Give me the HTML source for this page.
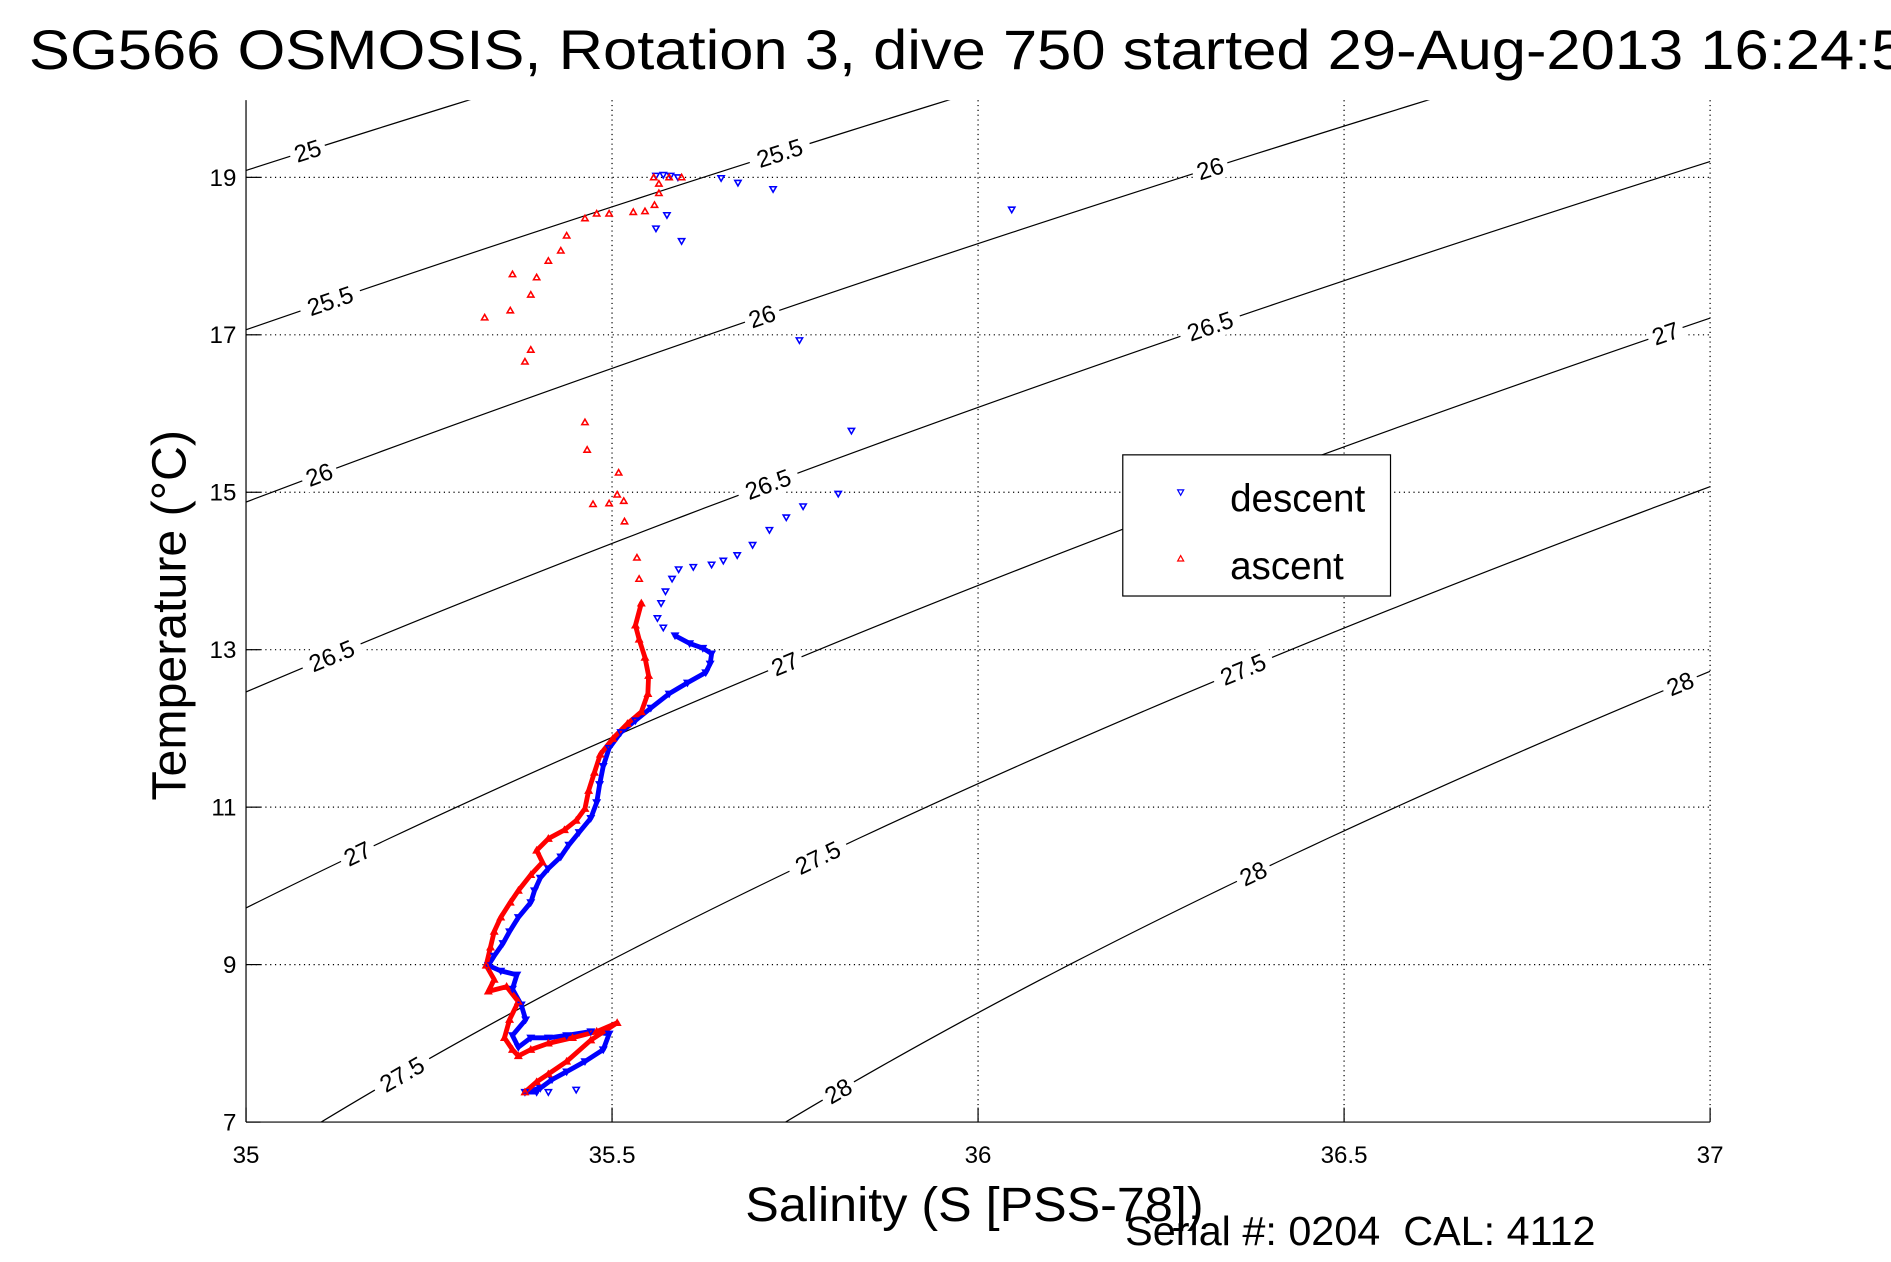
<!DOCTYPE html>
<html><head><meta charset="utf-8"><style>
html,body{margin:0;padding:0;background:#fff;}
svg{display:block;font-family:"Liberation Sans",sans-serif;}
</style></head><body>
<svg id="chart" xmlns="http://www.w3.org/2000/svg" width="1891" height="1262" viewBox="0 0 1568 1046" preserveAspectRatio="none">
<rect width="1568" height="1046" fill="#fff"/>
<defs><clipPath id="pc"><rect x="204" y="83" width="1214" height="847"/></clipPath></defs>
<text x="24" y="57" font-size="46" textLength="1556" lengthAdjust="spacingAndGlyphs">SG566 OSMOSIS, Rotation 3, dive 750 started 29-Aug-2013 16:24:5</text>
<g id="grid"></g>
<g id="contours" clip-path="url(#pc)"></g>
<g id="clabels"></g>
<g id="marks" clip-path="url(#pc)"></g>
<g id="axes"></g>
<text transform="translate(154,510) rotate(-90)" text-anchor="middle" font-size="40">Temperature (°C)</text>
<text x="618" y="1012" font-size="40" textLength="380" lengthAdjust="spacingAndGlyphs">Salinity (S [PSS-78])</text>
<text x="933" y="1032" font-size="34" textLength="390" lengthAdjust="spacingAndGlyphs">Serial #: 0204&#160;&#160;CAL: 4112</text>
<g>
<rect x="931" y="377" width="222" height="117" fill="#fff" stroke="#000" stroke-width="1"/>
<path d="M976.5,406 L981.5,406 L979,410.5 Z" fill="none" stroke="#00f" stroke-width="1"/>
<text x="1020" y="424" font-size="32">descent</text>
<path d="M976.5,465 L981.5,465 L979,460.5 Z" fill="none" stroke="#f00" stroke-width="1"/>
<text x="1020" y="480" font-size="32">ascent</text>
</g>
</svg>
<script>
const xTicks = [35, 35.5, 36, 36.5, 37];
const xTickLabels = ["35", "35.5", "36", "36.5", "37"];
const yTicks = [7, 9, 11, 13, 15, 17, 19];
const yTickLabels = ["7", "9", "11", "13", "15", "17", "19"];
const sigmaLevels = [25, 25.5, 26, 26.5, 27, 27.5, 28];
const labelLevels = [25, 25.5, 25.5, 26, 26, 26, 26.5, 26.5, 26.5, 27, 27, 27, 27.5, 27.5, 27.5, 28, 28, 28];
const labelSal = [35.084, 35.115, 35.729, 35.100, 35.705, 36.317, 35.117, 35.713, 36.317, 35.152, 35.736, 36.939, 35.213, 35.781, 36.362, 35.809, 36.376, 36.959];
const descentS = [35.56,35.57,35.58,35.59,35.649,35.672,35.72,36.046,35.595,35.575,35.56,35.756,35.827,35.809,35.761,35.738,35.715,35.692,35.671,35.652,35.636,35.611,35.591,35.582,35.573,35.567,35.562,35.57,35.586,35.606,35.624,35.636,35.634,35.628,35.603,35.578,35.553,35.532,35.512,35.496,35.488,35.483,35.479,35.471,35.455,35.441,35.43,35.413,35.402,35.394,35.389,35.372,35.36,35.351,35.339,35.331,35.348,35.37,35.364,35.376,35.382,35.364,35.372,35.389,35.413,35.438,35.471,35.496,35.488,35.463,35.438,35.418,35.402,35.381,35.397,35.413,35.451];
const descentT = [19.02,19.03,19.02,19.0,18.99,18.93,18.85,18.59,18.19,18.52,18.35,16.93,15.78,14.98,14.82,14.68,14.52,14.33,14.2,14.13,14.08,14.05,14.02,13.9,13.74,13.59,13.4,13.28,13.18,13.08,13.02,12.95,12.82,12.71,12.58,12.44,12.26,12.1,11.95,11.75,11.52,11.29,11.06,10.86,10.68,10.52,10.37,10.22,10.1,9.94,9.79,9.6,9.42,9.27,9.11,8.99,8.92,8.87,8.69,8.49,8.3,8.1,7.95,8.07,8.07,8.1,8.15,8.12,7.92,7.77,7.64,7.54,7.43,7.38,7.38,7.38,7.41];
const ascentS = [35.557,35.578,35.595,35.564,35.564,35.558,35.545,35.529,35.496,35.479,35.463,35.438,35.43,35.413,35.397,35.364,35.389,35.361,35.326,35.389,35.381,35.463,35.466,35.509,35.507,35.516,35.496,35.474,35.517,35.534,35.537,35.54,35.532,35.537,35.545,35.55,35.549,35.54,35.521,35.501,35.484,35.476,35.468,35.463,35.451,35.435,35.413,35.397,35.405,35.389,35.372,35.361,35.348,35.339,35.334,35.328,35.339,35.331,35.356,35.372,35.36,35.353,35.364,35.372,35.389,35.413,35.446,35.479,35.507,35.471,35.438,35.413,35.397,35.381];
const ascentT = [19.0,19.0,19.0,18.92,18.8,18.65,18.57,18.56,18.54,18.54,18.48,18.26,18.07,17.94,17.73,17.77,17.51,17.31,17.22,16.81,16.66,15.89,15.54,15.25,14.97,14.89,14.86,14.85,14.63,14.17,13.9,13.59,13.31,13.13,12.9,12.67,12.44,12.21,12.06,11.87,11.67,11.44,11.21,10.98,10.83,10.71,10.6,10.45,10.3,10.14,9.94,9.79,9.6,9.42,9.22,8.99,8.81,8.66,8.72,8.53,8.3,8.07,7.92,7.84,7.92,8.0,8.07,8.15,8.26,8.04,7.77,7.61,7.51,7.38];

const NS='http://www.w3.org/2000/svg';
const X0=204,X1=1418,Y0=930,Y1=147;
function sx(s){return X0+(s-35)/(37-35)*(X1-X0);}
function ty(t){return Y0-(t-7)/(19-7)*(Y0-Y1);}
function mk(tag,attrs,parent){const e=document.createElementNS(NS,tag);for(const k in attrs)e.setAttribute(k,attrs[k]);parent.appendChild(e);return e;}
function sigma(S,T){
  const rw=999.842594+6.793952e-2*T-9.095290e-3*T*T+1.001685e-4*T**3-1.120083e-6*T**4+6.536332e-9*T**5;
  const A=8.24493e-1-4.0899e-3*T+7.6438e-5*T*T-8.2467e-7*T**3+5.3875e-9*T**4;
  const B=-5.72466e-3+1.0227e-4*T-1.6546e-6*T*T;
  return rw+A*S+B*Math.pow(S,1.5)+4.8314e-4*S*S-1000;
}
function solveS(level,T){let a=30,b=40;for(let i=0;i<50;i++){const m=(a+b)/2;if(sigma(m,T)<level)a=m;else b=m;}return (a+b)/2;}
function solveT(level,S){let a=0,b=30;for(let i=0;i<50;i++){const m=(a+b)/2;if(sigma(S,m)>level)a=m;else b=m;}return (a+b)/2;}

const grid=document.getElementById('grid');
xTicks.forEach((v,i)=>{
  if(i>0){const l=mk('line',{x1:sx(v),x2:sx(v),y1:83,y2:930,stroke:'#000','stroke-width':1,'stroke-dasharray':'1 3'},grid);
  
  }
});
yTicks.forEach((v,i)=>{
  if(i>0){const l=mk('line',{x1:204,x2:1418,y1:ty(v),y2:ty(v),stroke:'#000','stroke-width':1,'stroke-dasharray':'1 3'},grid);
  
  }
});

const cg=document.getElementById('contours');
sigmaLevels.forEach(lv=>{
  let d='';
  for(let T=6;T<=20.5;T+=0.1){const S=solveS(lv,T);d+=(d?'L':'M')+sx(S).toFixed(2)+','+ty(T).toFixed(2);}
  const p=mk('path',{d:d,fill:'none',stroke:'#000','stroke-width':1},cg);
  
  
});

const lg=document.getElementById('clabels');
labelLevels.forEach((lv,i)=>{
  const S=labelSal[i],T=solveT(lv,S);
  const T2=solveT(lv,S+0.01);
  const ang=Math.atan2(ty(T2)-ty(T),sx(S+0.01)-sx(S))*180/Math.PI;
  const txt=String(lv);
  const w=txt.length*11+8;
  const g=mk('g',{transform:`translate(${sx(S).toFixed(1)},${ty(T).toFixed(1)}) rotate(${ang.toFixed(2)})`},lg);
  
  
  mk('rect',{x:-w/2,y:-11,width:w,height:22,fill:'#fff'},g);
  const t=mk('text',{x:0,y:7,'text-anchor':'middle','font-size':20},g);
  t.textContent=txt;
});

const mg=document.getElementById('marks');
// dense sampled segments drawn as thick traces (from the same arrays)
function trace(Sa,Ta,from,to,color,name){
  let d='';
  for(let i=from;i<=to;i++){d+=(d?'L':'M')+sx(Sa[i]).toFixed(1)+','+ty(Ta[i]).toFixed(1);}
  const p=mk('path',{d:d,fill:'none',stroke:color,'stroke-width':4,'stroke-linejoin':'round','stroke-linecap':'round'},mg);
  
  
}
trace(descentS,descentT,28,74,'#00f','descent-trace');
trace(ascentS,ascentT,31,73,'#f00','ascent-trace');
function tri(S,T,down,color,name){
  const x=sx(S),y=ty(T);
  const d=down?`M${x-2.6},${y-2} L${x+2.6},${y-2} L${x},${y+2.5} Z`:`M${x-2.6},${y+2} L${x+2.6},${y+2} L${x},${y-2.5} Z`;
  const p=mk('path',{d:d,fill:'none',stroke:color,'stroke-width':1.3},mg);
  
  
}
descentS.forEach((s,i)=>tri(s,descentT[i],true,'#00f','descent-point'));
ascentS.forEach((s,i)=>tri(s,ascentT[i],false,'#f00','ascent-point'));

const ax=document.getElementById('axes');
mk('line',{x1:204,x2:204,y1:83,y2:930,stroke:'#000','stroke-width':1},ax);
mk('line',{x1:204,x2:1418,y1:930,y2:930,stroke:'#000','stroke-width':1},ax);
xTicks.forEach((v,i)=>{
  mk('line',{x1:sx(v),x2:sx(v),y1:930,y2:918,stroke:'#000','stroke-width':1},ax);
  const t=mk('text',{x:sx(v),y:964,'text-anchor':'middle','font-size':20},ax);
  
  
  t.textContent=xTickLabels[i];
});
yTicks.forEach((v,i)=>{
  mk('line',{x1:204,x2:216,y1:ty(v),y2:ty(v),stroke:'#000','stroke-width':1},ax);
  const t=mk('text',{x:196,y:ty(v)+7,'text-anchor':'end','font-size':20},ax);
  
  
  t.textContent=yTickLabels[i];
});
</script>
</body></html>
